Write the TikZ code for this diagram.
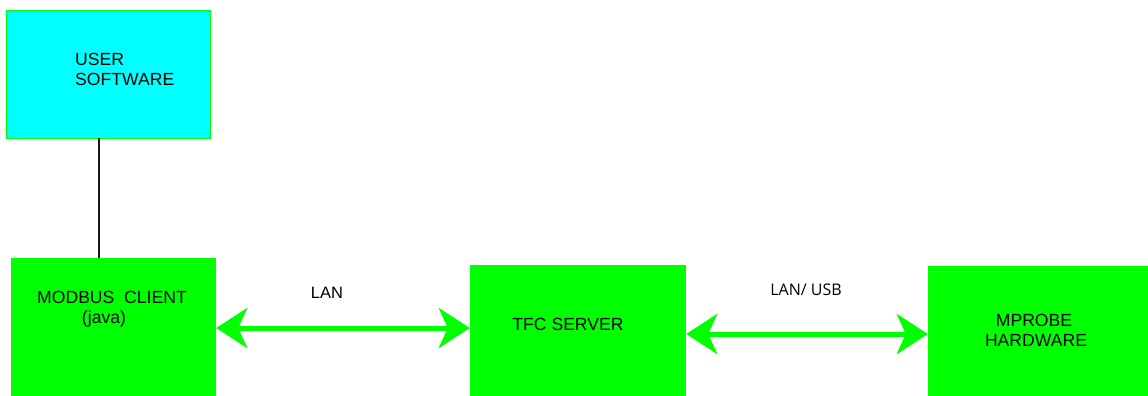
\documentclass[tikz,border=0pt]{standalone}
\usepackage{fontspec}
\setmainfont{Liberation Sans}
\newfontfamily\osans{Open Sans}
\usetikzlibrary{arrows.meta}
\definecolor{bgreen}{RGB}{0,255,0}
\definecolor{bcyan}{RGB}{0,255,255}
\begin{document}
\begin{tikzpicture}[x=1pt,y=-1pt,
  box/.style={rectangle, fill=bgreen, draw=none, inner sep=0pt},
  lbl/.style={inner sep=0pt, font=\fontsize{17.6}{20}\selectfont, text=black},
  link/.style={bgreen, line width=5pt, {Stealth[length=31pt,width=40pt,inset=9pt]}-{Stealth[length=31pt,width=40pt,inset=9pt]}}]
\useasboundingbox[fill=white] (0,0) rectangle (1148,396);
% boxes
\node[box, fill=bcyan, draw=bgreen, line width=0.8pt, minimum width=204pt, minimum height=128pt] (user) at (108,74) {};
\node[box, minimum width=205pt, minimum height=138pt] (modbus) at (113.5,327) {};
\node[box, minimum width=216pt, minimum height=131pt] (tfc) at (578,330.5) {};
\node[box, minimum width=220pt, minimum height=130pt] (mprobe) at (1038,331) {};
% texts
\node[lbl, anchor=west] (t1) at (75,59) {USER};
\node[lbl, anchor=west] (t2) at (75,79) {SOFTWARE};
\node[lbl] (t3) at (112,297) {MODBUS\ \ CLIENT};
\node[lbl] (t4) at (104,319) {(java)};
\node[lbl] (t5) at (568,324) {TFC SERVER};
\node[lbl] (t6) at (1034,320) {MPROBE};
\node[lbl] (t7) at (1036,340) {HARDWARE};
\node[lbl, font=\fontsize{16.5}{19}\selectfont] (l1) at (327,293) {LAN};
\node[lbl, font=\osans\fontsize{16}{18}\selectfont] (l2) at (806,290) {LAN/ USB};
% connectors
\draw[line width=2pt, black!90] (user.south -| 99,0) -- (modbus.north -| 99,0);
\draw[link] (modbus.east |- 0,328) -- (tfc.west |- 0,328);
\draw[link] (tfc.east |- 0,334) -- (mprobe.west |- 0,334);
\end{tikzpicture}
\end{document}
